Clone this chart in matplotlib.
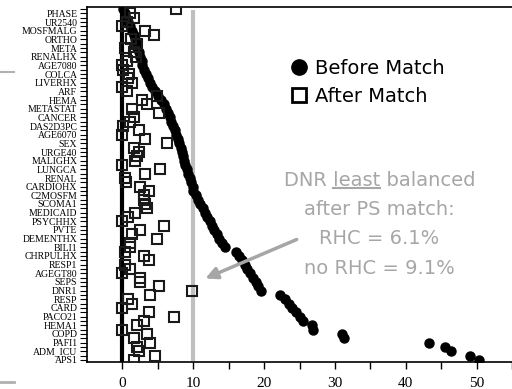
import numpy as np
import matplotlib.pyplot as plt
from matplotlib.lines import Line2D

# covariate names (shown on every second row)
labels = ["PHASE", "UR2540", "MOSFMALG", "ORTHO", "META", "RENALHX", "AGE7080",
          "COLCA", "LIVERHX", "ARF", "HEMA", "METASTAT", "CANCER", "DAS2D3PC",
          "AGE6070", "SEX", "URGE40", "MALIGHX", "LUNGCA", "RENAL", "CARDIOHX",
          "C2MOSFM", "SCOMA1", "MEDICAID", "PSYCHHX", "PVTE", "DEMENTHX", "BILI1",
          "CHRPULHX", "RESP1", "AGEGT80", "SEPS", "DNR1", "RESP", "CARD", "PACO21",
          "HEMA1", "COPD", "PAFI1", "ADM_ICU", "APS1"]

# absolute standardized differences (%) before matching, sorted
before = [0.1, 0.3, 0.5, 0.8, 1.1, 1.4, 1.6, 1.8, 2.0, 2.1,
          2.3, 2.5, 2.7, 2.8, 3.0, 3.3, 3.6, 3.9, 4.2, 4.6,
          5.0, 5.4, 5.8, 6.1, 6.4, 6.7, 6.9, 7.2, 7.4, 7.6,
          7.8, 8.0, 8.2, 8.4, 8.6, 8.7, 8.9, 9.1, 9.3, 9.5,
          9.7, 9.9, 10.0, 10.4, 10.7, 11.0, 11.4, 11.7, 12.0, 12.3,
          12.6, 12.9, 13.3, 13.7, 14.1, 14.5, 16.0, 16.4, 16.9, 17.3,
          17.6, 18.0, 18.4, 18.8, 19.2, 19.5, 22.3, 22.9, 23.5, 24.0,
          24.5, 25.0, 25.5, 26.7, 26.9, 31.0, 31.3, 43.3, 45.5, 46.4,
          49.0, 50.3]

# after propensity score matching
after = [7.6, 1.1, 1.6, 0.6, 0.0, 3.2, 4.4, 1.2, 2.1, 0.4,
         1.6, 1.9, 0.7, 0.0, 0.1, 0.9, 0.8, 1.3, 0.0, 0.7,
         4.9, 2.8, 3.5, 1.4, 5.1, 1.6, 1.0, 0.1, 2.3, 0.0,
         3.2, 6.3, 1.6, 2.3, 2.0, 1.8, 0.0, 5.3, 3.2, 0.4,
         0.5, 2.5, 3.7, 3.0, 3.0, 3.2, 3.5, 1.8, 0.8, 0.0,
         5.8, 2.5, 1.4, 4.9, 1.1, 1.1, 0.4, 3.0, 3.7, 0.4,
         1.1, 0.0, 2.5, 2.5, 5.1, 9.8, 3.9, 0.8, 1.4, 0.0,
         3.8, 7.3, 3.0, 2.1, 0.0, 3.5, 1.6, 3.9, 2.1, 2.3,
         4.6, 1.6]

n = len(before)
ypos = np.arange(n)
ticklab = [labels[(i - 1) // 2] if i % 2 == 1 else "" for i in range(n)]

gray = "#a6a6a6"

fig = plt.figure(figsize=(5.12, 3.89), dpi=100)
ax = fig.add_axes([0.170, 0.0694, 0.830, 0.9126])

# reference lines
ax.vlines(0, -0.4, n - 0.6, color="black", lw=3, zorder=1)
ax.vlines(10, 0.2, n - 0.8, color="#bfbfbf", lw=3, zorder=1)

ax.plot(before, ypos, "o", color="black", ms=6.5, zorder=3)
ax.plot(after, ypos, "s", mfc="none", mec="#1a1a1a", mew=1.5, ms=7, zorder=4)

ax.set_xlim(-5, 55)
ax.set_ylim(n - 0.5, -0.5)
ax.set_yticks(ypos)
ax.set_yticklabels(ticklab, fontsize=7, family="Liberation Serif")
ax.set_xticks(np.arange(0, 51, 10))
ax.set_xticks(np.arange(5, 56, 10), minor=True)
ax.set_xticklabels([str(v) for v in range(0, 51, 10)], fontsize=11,
                   family="Liberation Serif")
ax.tick_params(axis="y", length=5, width=0.8, pad=2)
ax.tick_params(axis="x", which="both", length=5, width=1, pad=6)
ax.spines["right"].set_visible(False)
for s in ["left", "top", "bottom"]:
    ax.spines[s].set_linewidth(1.2)

# legend
h1 = Line2D([], [], marker="o", ls="none", color="black", ms=11)
h2 = Line2D([], [], marker="s", ls="none", mfc="none", mec="black", mew=2, ms=10)
ax.legend([h1, h2], ["Before Match", "After Match"], loc="upper left",
          bbox_to_anchor=(0.48, 0.853), frameon=False, fontsize=14,
          handlelength=0.8, handletextpad=0.45, labelspacing=0.45,
          borderpad=0, borderaxespad=0)

# annotation
tx = 36.3
lines = ["DNR least balanced", "after PS match:", "RHC = 6.1%", "no RHC = 9.1%"]
rows = [39.6, 46.2, 53.0, 59.8]
texts = []
for s, r in zip(lines, rows):
    texts.append(ax.text(tx, r, s, ha="center", va="center", fontsize=14,
                         color=gray, family="DejaVu Sans"))

ax.annotate("", xy=(11.7, 62.2), xytext=(24.6, 53.2),
            arrowprops=dict(arrowstyle="-|>,head_length=0.7,head_width=0.35",
                            color=gray, lw=2.5, shrinkA=0, shrinkB=0))

# underline the word "least"
fig.canvas.draw()
rend = fig.canvas.get_renderer()
bb = texts[0].get_window_extent(rend)
tmp1 = ax.text(0, 0, "DNR least", fontsize=14, family="DejaVu Sans")
tmp2 = ax.text(0, 0, "least", fontsize=14, family="DejaVu Sans")
w1 = tmp1.get_window_extent(rend).width
w2 = tmp2.get_window_extent(rend).width
tmp1.remove()
tmp2.remove()
x0 = bb.x0 + (w1 - w2)
x1 = bb.x0 + w1
yl = bb.y0 + 2
inv = fig.transFigure.inverted()
(fx0, fy), (fx1, _) = inv.transform([(x0, yl), (x1, yl)])
fig.add_artist(Line2D([fx0, fx1], [fy, fy], color=gray, lw=1.5))

# slide leftovers at the left edge
fig.add_artist(Line2D([0, 14 / 512], [1 - 72 / 389] * 2, color="#b0b0b0", lw=1.5))
fig.add_artist(Line2D([0, 14 / 512], [1 - 382 / 389] * 2, color="#b0b0b0", lw=2))

fig.savefig("out.png", dpi=100)
